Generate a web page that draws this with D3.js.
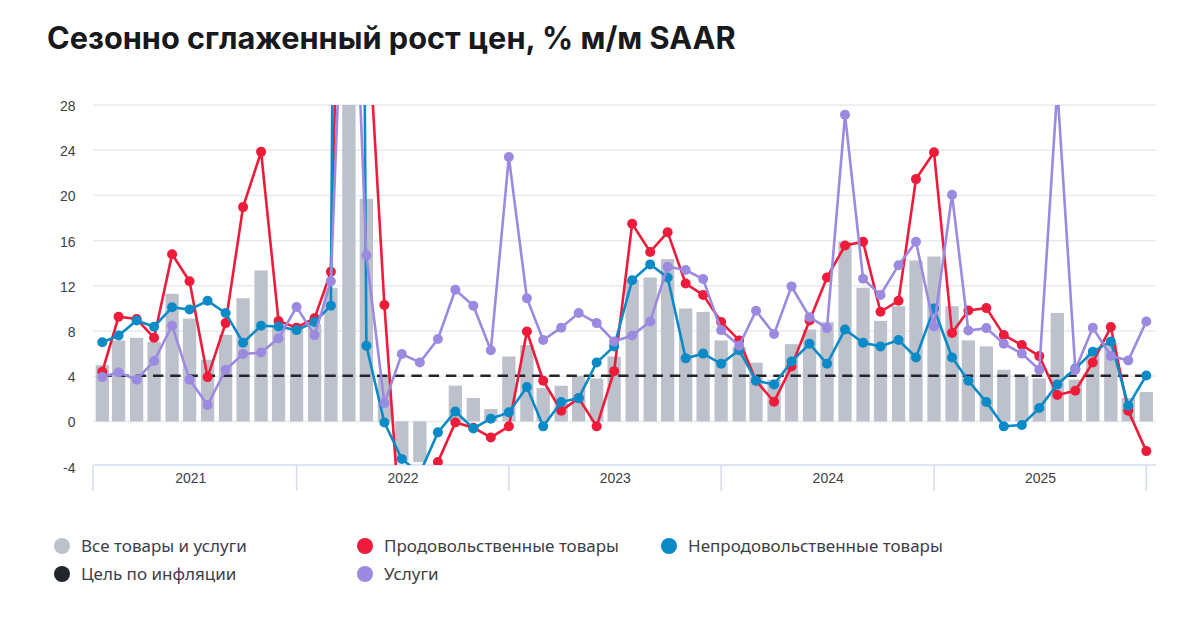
<!DOCTYPE html>
<html>
<head>
<meta charset="utf-8">
<script src="https://cdn.jsdelivr.net/npm/d3@7"></script>
<style>
  html, body { margin: 0; padding: 0; background: #fff; }
  svg { display: block; }
</style>
</head>
<body>
<div id="chart"></div>
<script>
// Monthly data, Jan 2021 - Dec 2025
const startYear = 2021;
const yearLabels = ["2021", "2022", "2023", "2024", "2025"];
const yTicks = [-4, 0, 4, 8, 12, 16, 20, 24, 28];
const inflationTarget = 4;

const allItems = [4.98, 7.17, 7.4, 7.05, 11.3, 9.1, 5.46, 7.67, 10.9, 13.36, 8.5, 8.3,
  8.6, 11.8, 40, 19.7, 4.1, -3.5, -3.6, 0, 3.16, 2.07, 1.09, 5.75,
  6.76, 2.95, 3.16, 4.04, 3.8, 5.75, 12.5, 12.74, 14.37, 10, 9.68, 7.17,
  6.6, 5.2, 3.7, 6.84, 8.14, 8.79, 15.9, 11.83, 8.9, 10.2, 14.25, 14.6,
  10.2, 7.17, 6.64, 4.57, 3.98, 3.8, 9.6, 3.7, 6, 6.9, 2.07, 2.6];

const food = [4.4, 9.26, 9.06, 7.4, 14.8, 12.4, 3.92, 8.7, 18.97, 23.86, 8.88, 8.3,
  9.14, 13.24, 80, 38, 10.3, -11.3, -8, -3.6, -0.09, -0.56, -1.42, -0.44,
  7.96, 3.6, 0.94, 2.06, -0.44, 4.45, 17.5, 15, 16.75, 12.2, 11.2, 8.8,
  7.17, 3.6, 1.74, 4.87, 8.94, 12.74, 15.57, 15.9, 9.7, 10.68, 21.45, 23.83,
  7.82, 9.82, 10.03, 7.64, 6.76, 5.78, 2.33, 2.71, 5.22, 8.35, 0.94, -2.63];

const nonFood = [7, 7.6, 8.94, 8.38, 10.1, 9.9, 10.68, 9.59, 6.96, 8.47, 8.4, 8.08,
  8.8, 10.24, 245, 6.7, -0.1, -3.33, -4.6, -0.97, 0.88, -0.62, 0.24, 0.8,
  3.04, -0.44, 1.71, 2.06, 5.22, 6.64, 12.5, 13.9, 12.74, 5.58, 6, 5.1,
  6.3, 3.6, 3.27, 5.3, 6.87, 5.1, 8.14, 6.96, 6.64, 7.2, 5.66, 10,
  5.66, 3.6, 1.71, -0.44, -0.32, 1.18, 3.27, 4.69, 6.17, 7.08, 1.39, 4.07];

const services = [3.92, 4.34, 3.69, 5.34, 8.47, 3.69, 1.45, 4.57, 5.96, 6.1, 7.35, 10.12,
  7.64, 12.4, 54, 14.7, 1.62, 5.96, 5.22, 7.3, 11.65, 10.24, 6.3, 23.4,
  10.9, 7.2, 8.3, 9.6, 8.7, 7.08, 7.6, 8.85, 13.7, 13.4, 12.6, 8.08,
  6.7, 9.8, 7.73, 11.95, 9.23, 8.26, 27.14, 12.63, 11.2, 13.83, 15.9, 8.4,
  20.06, 8.05, 8.26, 6.87, 6, 4.57, 29.5, 4.57, 8.29, 5.8, 5.4, 8.85];

const legendNames = ["Все товары и услуги", "Продовольственные товары", "Непродовольственные товары", "Цель по инфляции", "Услуги"];

const colors = { bars: "#bcc1cc", food: "#ee1c3a", nonFood: "#0a8ac6", services: "#9b8ae0", target: "#22252b" };

// points sit on the last day of each month
const dates = allItems.map((d, i) => new Date(startYear, i + 1, 0));

const width = 1200, height = 618;
const plot = { left: 93, right: 1156, top: 105, bottom: 465 };

const svg = d3.select("#chart").append("svg")
  .attr("width", width)
  .attr("height", height);

svg.append("text")
  .attr("x", 47)
  .attr("y", 49)
  .attr("font-family", "Inter, sans-serif")
  .attr("font-weight", 700)
  .attr("font-size", 30.7)
  .attr("fill", "#17191d")
  .text("Сезонно сглаженный рост цен, % м/м SAAR");

const x = d3.scaleTime()
  .domain([dates[0], dates[dates.length - 1]])
  .range([102.3, 1146.3]);

// the -4 value falls just under the year axis, so the scale is set by 0 and 28
const y = d3.scaleLinear()
  .domain([0, 28])
  .range([421.4, 105.1]);

// Grid lines and y labels
svg.append("g").selectAll("line")
  .data(yTicks.filter(d => d > -4))
  .join("line")
  .attr("x1", plot.left)
  .attr("x2", plot.right)
  .attr("y1", d => y(d))
  .attr("y2", d => y(d))
  .attr("stroke", "#e8eaf0")
  .attr("stroke-width", 1.5);

svg.append("g").selectAll("text")
  .data(yTicks)
  .join("text")
  .attr("x", 75.5)
  .attr("y", d => y(d) + 6)
  .attr("text-anchor", "end")
  .attr("font-family", "'Liberation Sans', sans-serif")
  .attr("font-size", 14)
  .attr("fill", "#3c4048")
  .text(d => d);

// Year axis under the plot
const yearEnds = yearLabels.map(d => new Date(+d, 12, 0));
const yearTicks = [plot.left].concat(yearEnds.map(d => x(d)));

svg.append("line")
  .attr("x1", plot.left)
  .attr("x2", plot.right)
  .attr("y1", plot.bottom)
  .attr("y2", plot.bottom)
  .attr("stroke", "#d6dcef")
  .attr("stroke-width", 1.5);

svg.append("g").selectAll("line")
  .data(yearTicks)
  .join("line")
  .attr("x1", d => d)
  .attr("x2", d => d)
  .attr("y1", plot.bottom)
  .attr("y2", plot.bottom + 26)
  .attr("stroke", "#d6dcef")
  .attr("stroke-width", 1.5);

svg.append("g").selectAll("text")
  .data(yearLabels)
  .join("text")
  .attr("x", d => x(new Date(+d, 6, 1)) + 0.6)
  .attr("y", 483)
  .attr("text-anchor", "middle")
  .attr("font-family", "'Liberation Sans', sans-serif")
  .attr("font-size", 14)
  .attr("fill", "#3c4048")
  .text(d => d);

// Everything that leaves the value range gets cut at the plot edges
svg.append("clipPath")
  .attr("id", "plot-clip")
  .append("rect")
  .attr("x", plot.left)
  .attr("y", plot.top)
  .attr("width", plot.right - plot.left)
  .attr("height", plot.bottom - plot.top);

const chart = svg.append("g").attr("clip-path", "url(#plot-clip)");

// Bars
const barWidth = 13.3;
chart.append("g").selectAll("rect")
  .data(allItems)
  .join("rect")
  .attr("x", (d, i) => x(dates[i]) - barWidth / 2)
  .attr("y", d => y(Math.max(d, 0)))
  .attr("width", barWidth)
  .attr("height", d => Math.abs(y(d) - y(0)))
  .attr("fill", colors.bars);

// Inflation target
chart.append("line")
  .attr("x1", x(dates[0]))
  .attr("x2", x(dates[dates.length - 1]))
  .attr("y1", y(inflationTarget) - 0.5)
  .attr("y2", y(inflationTarget) - 0.5)
  .attr("stroke", colors.target)
  .attr("stroke-width", 2.5)
  .attr("stroke-dasharray", "10.4,6.83")
  .attr("stroke-dashoffset", 1);

// Lines with dots
const line = d3.line()
  .x((d, i) => x(dates[i]))
  .y(d => y(d));

[[food, colors.food], [nonFood, colors.nonFood], [services, colors.services]].forEach(([values, color]) => {
  chart.append("path")
    .datum(values)
    .attr("fill", "none")
    .attr("stroke", color)
    .attr("stroke-width", 2.6)
    .attr("d", line);

  chart.append("g").selectAll("circle")
    .data(values)
    .join("circle")
    .attr("cx", (d, i) => x(dates[i]))
    .attr("cy", d => y(d))
    .attr("r", 5)
    .attr("fill", color);
});

// Legend
const legendItems = [
  { name: legendNames[0], color: colors.bars, x: 62, y: 546 },
  { name: legendNames[1], color: colors.food, x: 365, y: 546 },
  { name: legendNames[2], color: colors.nonFood, x: 669, y: 546 },
  { name: legendNames[3], color: colors.target, x: 62, y: 574 },
  { name: legendNames[4], color: colors.services, x: 365, y: 574 }
];

const legend = svg.append("g");
legendItems.forEach(item => {
  legend.append("circle")
    .attr("cx", item.x)
    .attr("cy", item.y)
    .attr("r", 8)
    .attr("fill", item.color);

  legend.append("text")
    .attr("x", item.x + 19)
    .attr("y", item.y + 6)
    .attr("font-family", "'Noto Sans', sans-serif")
    .attr("font-size", 17)
    .attr("fill", "#3c4048")
    .text(item.name);
});
</script>
</body>
</html>
